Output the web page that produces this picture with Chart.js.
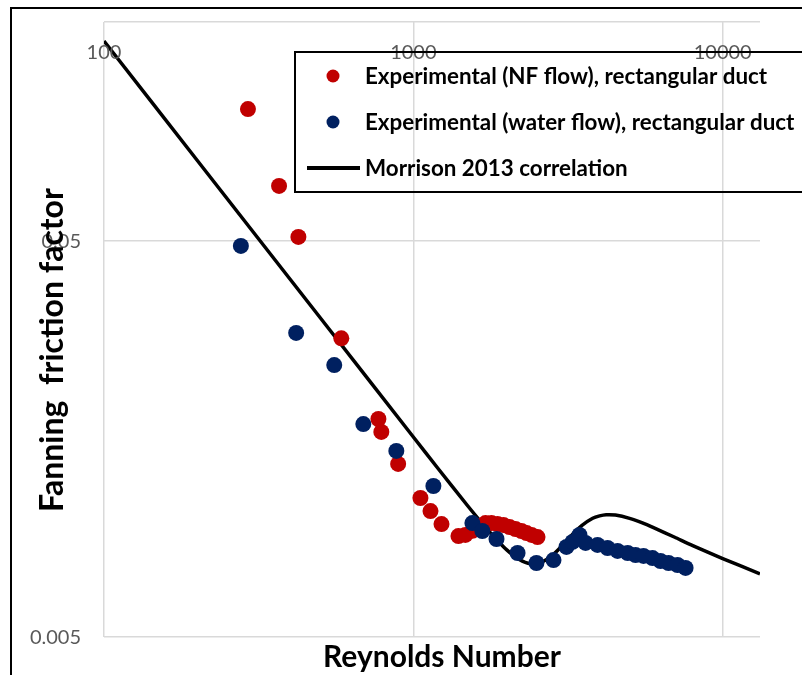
<!DOCTYPE html>
<html>
<head>
<meta charset="utf-8">
<script src="https://cdn.jsdelivr.net/npm/chart.js@4.4.0/dist/chart.umd.min.js"></script>
<style>
  html, body { margin: 0; padding: 0; background: #fff; }
</style>
</head>
<body>
<canvas id="chart" width="802" height="675"></canvas>
<script>
// NF flow points (Reynolds number, fanning friction factor)
var nfRe = [292, 368, 425, 585, 771, 788, 893, 1054, 1136, 1233, 1399, 1473, 1552, 1636, 1711, 1788, 1871, 1955, 2045, 2138, 2236, 2322, 2411, 2520];
var nfF = [0.1077, 0.0689, 0.0512, 0.0284, 0.01776, 0.01648, 0.01368, 0.01122, 0.0104, 0.00964, 0.00899, 0.00905, 0.00927, 0.00953, 0.0097, 0.0097, 0.00964, 0.00959, 0.00948, 0.00937, 0.00926, 0.00915, 0.00905, 0.00894];

// water flow points
var waterRe = [277, 418, 555, 689, 881, 1161, 1552, 1671, 1857, 2172, 2500, 2838, 3126, 3271, 3444, 3603, 3939, 4244, 4573, 4930, 5228, 5546, 5930, 6295, 6683, 7146, 7586];
var waterF = [0.0486, 0.0293, 0.0243, 0.01725, 0.01475, 0.01203, 0.0097, 0.00926, 0.00884, 0.00815, 0.00769, 0.00782, 0.00844, 0.00869, 0.00905, 0.00864, 0.00854, 0.00839, 0.00825, 0.00815, 0.00805, 0.00801, 0.00791, 0.00778, 0.00769, 0.0076, 0.00747];

// Morrison 2013 correlation curve
var corrRe = [100, 200, 500, 1000, 1200, 1500, 1700, 1800, 1900, 2000, 2100, 2200, 2300, 2400, 2500, 2600, 2800, 3000, 3170, 3300, 3500, 3800, 4000, 4200, 4500, 5000, 5500, 6000, 7000, 8000, 10000, 13200];
var corrF = [0.16, 0.08, 0.032, 0.016, 0.01334, 0.01071, 0.00952, 0.00905, 0.00865, 0.00831, 0.00805, 0.00785, 0.00772, 0.00766, 0.00766, 0.00772, 0.00801, 0.00844, 0.00885, 0.00915, 0.00956, 0.00997, 0.01011, 0.01018, 0.01016, 0.00997, 0.00971, 0.00943, 0.00893, 0.00851, 0.00789, 0.00722];

var xTicks = [100, 1000, 10000];
var yTicks = [0.005, 0.05];
var yTickLabels = ['0.005', '0.05'];
var xMin = 100, xMax = 13200;
var yMin = 0.005, yMax = 0.1787;

function pairs(xs, ys) {
  return xs.map(function(v, i) { return { x: v, y: ys[i] }; });
}

var FONT = 'Lato, "Open Sans", sans-serif';

var decor = {
  id: 'decor',
  beforeDraw: function(chart) {
    var ctx = chart.ctx;
    ctx.save();
    ctx.fillStyle = '#fff';
    ctx.fillRect(0, 0, chart.width, chart.height);
    ctx.restore();
  },
  afterDraw: function(chart) {
    var ctx = chart.ctx;
    var xs = chart.scales.x, ys = chart.scales.y;
    var area = chart.chartArea;
    ctx.save();

    // outer frame
    ctx.strokeStyle = '#000';
    ctx.lineWidth = 2;
    ctx.strokeRect(11, 8, 900, 900);

    // x tick labels sit just under the top of the plot
    ctx.font = '20px ' + FONT;
    ctx.fillStyle = '#595959';
    ctx.textAlign = 'center';
    ctx.textBaseline = 'middle';
    xTicks.forEach(function(v) {
      ctx.fillText(String(v), xs.getPixelForValue(v), area.top + 31);
    });

    // y tick labels
    ctx.textAlign = 'right';
    yTicks.forEach(function(v, i) {
      ctx.fillText(yTickLabels[i], area.left - 23, ys.getPixelForValue(v) + 1);
    });

    // axis titles
    ctx.fillStyle = '#000';
    ctx.textAlign = 'center';
    ctx.font = 'bold 30px ' + FONT;
    ctx.fillText('Reynolds Number', 442, 657);
    ctx.save();
    ctx.translate(53, 350);
    ctx.rotate(-Math.PI / 2);
    ctx.font = 'bold 32px ' + FONT;
    ctx.fillText('Fanning  friction factor', 0, 0);
    ctx.restore();

    // legend
    ctx.strokeStyle = '#000';
    ctx.lineWidth = 2;
    ctx.strokeRect(295, 52, 600, 140);
    ctx.font = 'bold 22.4px ' + FONT;
    ctx.textAlign = 'left';
    var rows = [76, 122, 168];
    chart.data.datasets.forEach(function(ds, i) {
      var y = rows[i];
      if (ds.showLine) {
        ctx.strokeStyle = ds.borderColor;
        ctx.lineWidth = 4;
        ctx.beginPath();
        ctx.moveTo(307, y);
        ctx.lineTo(360, y);
        ctx.stroke();
      } else {
        ctx.fillStyle = ds.backgroundColor;
        ctx.beginPath();
        ctx.arc(333, y, 6.5, 0, Math.PI * 2);
        ctx.fill();
      }
      ctx.fillStyle = '#000';
      ctx.fillText(ds.label, 365, y + 1);
    });
    ctx.restore();
  }
};

var chart = new Chart(document.getElementById('chart').getContext('2d'), {
  type: 'scatter',
  data: {
    datasets: [{
      label: 'Experimental (NF flow), rectangular duct',
      data: pairs(nfRe, nfF),
      backgroundColor: '#C00000',
      borderWidth: 0,
      pointRadius: 8,
      showLine: false,
      order: 2
    }, {
      label: 'Experimental (water flow), rectangular duct',
      data: pairs(waterRe, waterF),
      backgroundColor: '#002060',
      borderWidth: 0,
      pointRadius: 8,
      showLine: false,
      order: 1
    }, {
      label: 'Morrison 2013 correlation',
      data: pairs(corrRe, corrF),
      borderColor: '#000',
      backgroundColor: '#000',
      borderWidth: 3.5,
      pointRadius: 0,
      showLine: true,
      tension: 0.2,
      order: 3
    }]
  },
  options: {
    responsive: false,
    animation: false,
    layout: { padding: { left: 104, right: 42, top: 22, bottom: 38 } },
    plugins: {
      legend: { display: false },
      tooltip: { enabled: false }
    },
    scales: {
      x: {
        type: 'logarithmic',
        min: xMin,
        max: xMax,
        ticks: { display: false },
        grid: { color: '#d9d9d9', lineWidth: 1.5, drawTicks: false },
        border: { display: false },
        afterBuildTicks: function(s) {
          s.ticks = xTicks.map(function(v) { return { value: v }; });
        }
      },
      y: {
        type: 'logarithmic',
        min: yMin,
        max: yMax,
        ticks: { display: false },
        grid: { color: '#d9d9d9', lineWidth: 1.5, drawTicks: false },
        border: { display: false },
        afterBuildTicks: function(s) {
          s.ticks = yTicks.concat([yMax]).map(function(v) { return { value: v }; });
        }
      }
    }
  },
  plugins: [decor]
});
</script>
</body>
</html>
